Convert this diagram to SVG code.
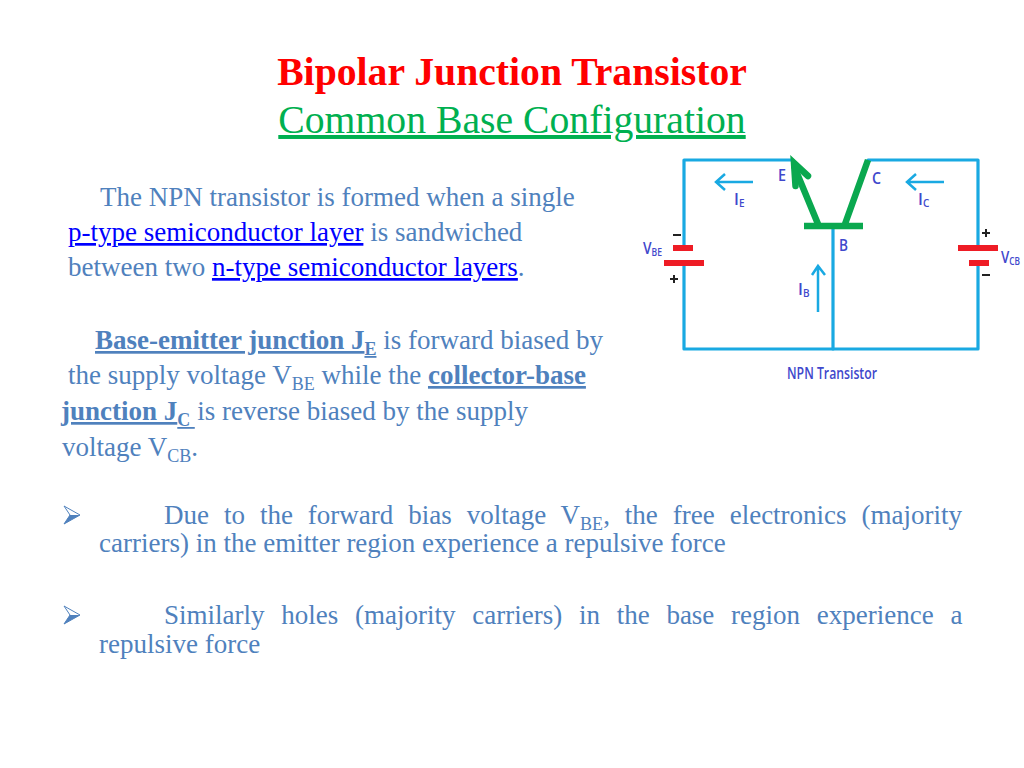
<svg xmlns="http://www.w3.org/2000/svg" width="1024" height="768" viewBox="0 0 1024 768">
<style>
text{font-family:"Liberation Serif","Times New Roman",serif;text-decoration-thickness:1.5px}
.b{font-size:27px;fill:#4f81bd}
.l{fill:#0000ff;text-decoration:underline;text-decoration-thickness:1.5px}
.h{font-weight:bold;text-decoration:underline;text-decoration-thickness:2px}
.s{font-size:18px}
.w{fill:none;stroke:#19a9e2;stroke-width:3.2;stroke-linecap:round;stroke-linejoin:round}
.a{fill:none;stroke:#19a9e2;stroke-width:2.5}
.g{fill:none;stroke:#0aa84f;stroke-width:6.5}
.r{fill:#ee1c25}
.d{font-family:"Open Sans","Liberation Sans",sans-serif;fill:#3f48cc;font-weight:600}
.bo{fill:#fff;stroke:#4f81bd;stroke-width:1}
.bu{fill:#4f81bd}
.k{stroke:#222;stroke-width:2;fill:none}
</style>
<rect width="1024" height="768" fill="#fff"/>
<g id="title" text-anchor="middle">
<text x="512" y="85" font-size="39.7" font-weight="bold" fill="#ff0000">Bipolar Junction Transistor</text>
<text x="512" y="133" font-size="39.7" fill="#00b050" text-decoration="underline" style="text-decoration-thickness:1.5px">Common Base Configuration</text>
</g>
<g id="para1">
<text x="100" y="206" class="b">The NPN transistor is formed when a single</text>
<text x="68" y="241" class="b"><tspan class="l">p-type semiconductor layer</tspan> is sandwiched</text>
<text x="68" y="276" class="b">between two <tspan class="l">n-type semiconductor layers</tspan>.</text>
</g>
<g id="para2">
<text x="95" y="349" class="b"><tspan class="h">Base-emitter junction J</tspan><tspan class="h s" dy="6">E</tspan><tspan dy="-6"> is forward biased by</tspan></text>
<text x="68" y="384" class="b">the supply voltage V<tspan class="s" dy="6">BE</tspan><tspan dy="-6"> while the </tspan><tspan class="h">collector-base</tspan></text>
<text x="61" y="420" class="b"><tspan class="h">junction J</tspan><tspan class="h s" dy="6">C </tspan><tspan dy="-6" dx="2.500">is reverse biased by the supply</tspan></text>
<text x="62" y="456" class="b">voltage V<tspan class="s" dy="6">CB</tspan><tspan dy="-6">.</tspan></text>
</g>
<g id="bullet1">
<path class="bo" d="M64 506L80 515L64 524L70 515Z"/><path class="bu" d="M64 524L80 515L70 515Z"/>
<text x="164" y="524" class="b" word-spacing="8.2">Due to the forward bias voltage V<tspan class="s" dy="6">BE</tspan><tspan dy="-6">, the free electronics (majority</tspan></text>
<text x="99" y="552" class="b">carriers) in the emitter region experience a repulsive force</text>
</g>
<g id="bullet2">
<path class="bo" d="M64 606L80 615L64 624L70 615Z"/><path class="bu" d="M64 624L80 615L70 615Z"/>
<text x="164" y="624" class="b" word-spacing="10">Similarly holes (majority carriers) in the base region experience a</text>
<text x="99" y="653" class="b">repulsive force</text>
</g>
<g id="connectors">
<path class="w" d="M793 160H684V245M684 265V349H978V265M978 245V160H868"/>
<path class="w" d="M833 226V349"/>
<path class="a" d="M753 182H716M725 174L716 182L725 190"/>
<path class="a" d="M944 182H907M916 174L907 182L916 190"/>
<path class="a" d="M818 312V266M812 275L818 266L825 275"/>
</g>
<g id="transistor">
<path class="g" d="M804 226H863M818 224L794 166M845 224L868 160"/>
<path class="g" stroke-linecap="round" d="M795.500 186L794 163L808 176"/>
</g>
<g id="batteries">
<rect x="673" y="245" width="20" height="6" class="r"/>
<rect x="664" y="260" width="40" height="6" class="r"/>
<rect x="958" y="245" width="40" height="6" class="r"/>
<rect x="969" y="260" width="20" height="6" class="r"/>
<path class="k" d="M673 235H681M670 279H678M674 275V283M982 233H990M986 229V237M982 275H990"/>
</g>
<g id="labels">
<text x="778" y="181" class="d" font-size="17" textLength="8" lengthAdjust="spacingAndGlyphs">E</text>
<text x="872" y="184" class="d" font-size="17" textLength="9" lengthAdjust="spacingAndGlyphs">C</text>
<text x="839" y="251" class="d" font-size="17" textLength="9" lengthAdjust="spacingAndGlyphs">B</text>
<text x="734" y="205" class="d" font-size="16">I<tspan font-size="10" dy="2">E</tspan></text>
<text x="918" y="205" class="d" font-size="16">I<tspan font-size="10" dy="2">C</tspan></text>
<text x="798" y="295" class="d" font-size="16">I<tspan font-size="10" dy="2">B</tspan></text>
<text x="643" y="254" class="d" font-size="16" textLength="19" lengthAdjust="spacingAndGlyphs">V<tspan font-size="10" dy="2">BE</tspan></text>
<text x="1001" y="263" class="d" font-size="16" textLength="19" lengthAdjust="spacingAndGlyphs">V<tspan font-size="10" dy="2">CB</tspan></text>
<text x="787" y="379" class="d" font-size="15.500" textLength="90" lengthAdjust="spacingAndGlyphs">NPN Transistor</text>
</g>
</svg>
